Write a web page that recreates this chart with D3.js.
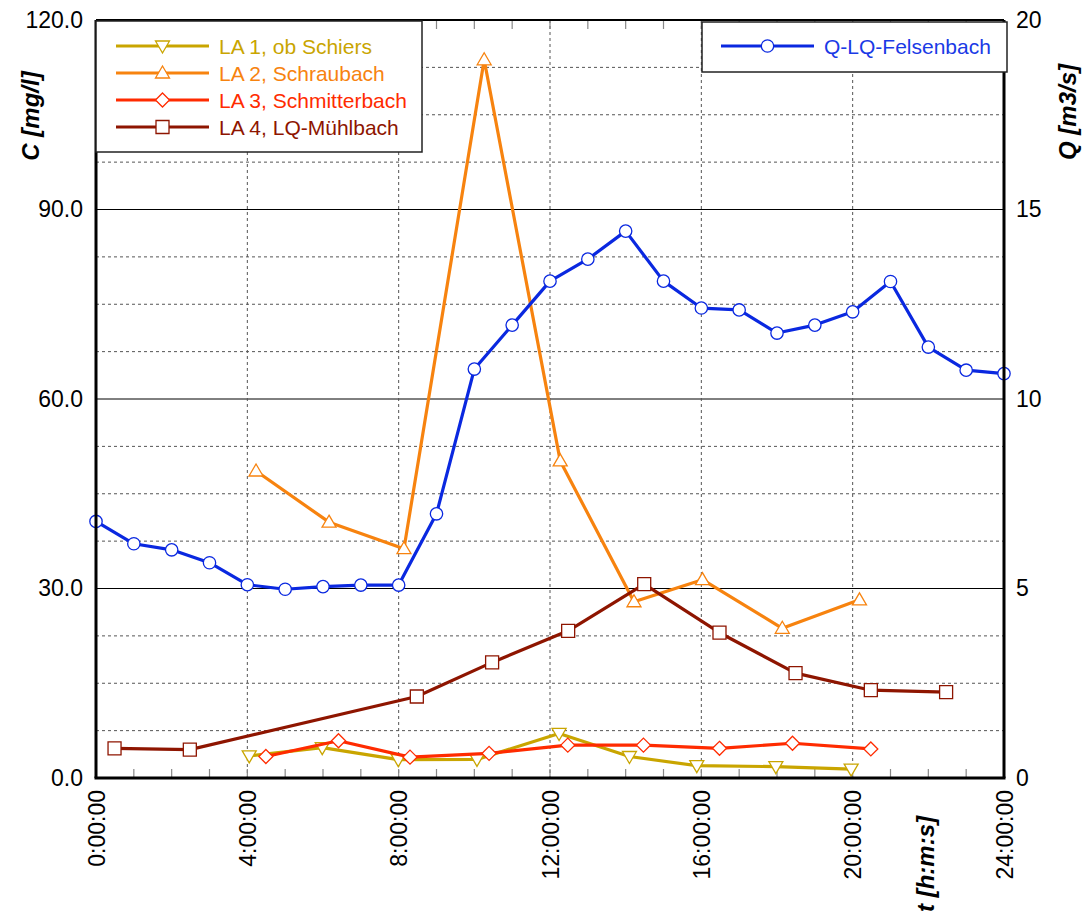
<!DOCTYPE html>
<html>
<head>
<meta charset="utf-8">
<script src="https://cdn.jsdelivr.net/npm/d3@7"></script>
<style>
  body { margin: 0; background: #fff; }
  svg { display: block; font-family: "Liberation Sans", Arial, Helvetica, sans-serif; }
</style>
</head>
<body>
<svg id="chart" width="1088" height="920"></svg>
<script>
// ---- data: sampling times in decimal hours, concentrations C [mg/l], discharge Q [m3/s]
const qTimes  = [0, 1, 2, 3, 4, 5, 6, 7, 8, 9, 10, 11, 12, 13, 14, 15, 16, 17, 18, 19, 20, 21, 22, 23, 24];
const qValues = [6.77, 6.18, 6.02, 5.68, 5.10, 4.98, 5.05, 5.09, 5.09, 6.97, 10.79, 11.95, 13.11, 13.69, 14.43,
                 13.11, 12.40, 12.35, 11.74, 11.95, 12.30, 13.10, 11.37, 10.76, 10.67];

const la1Times  = [4.05, 5.98, 7.99, 10.07, 12.24, 14.10, 15.88, 17.97, 19.96];
const la1Values = [3.5, 4.8, 2.9, 2.95, 7.05, 3.4, 1.95, 1.8, 1.4];

const la2Times  = [4.23, 6.16, 8.14, 10.26, 12.27, 14.22, 16.03, 18.14, 20.18];
const la2Values = [48.6, 40.5, 36.3, 113.7, 50.2, 27.9, 31.4, 23.7, 28.2];

const la3Times  = [4.49, 6.41, 8.30, 10.39, 12.47, 14.47, 16.48, 18.41, 20.48];
const la3Values = [3.4, 5.9, 3.3, 3.9, 5.2, 5.2, 4.7, 5.5, 4.6];

const la4Times  = [0.49, 2.48, 8.48, 10.47, 12.48, 14.49, 16.48, 18.49, 20.48, 22.47];
const la4Values = [4.7, 4.5, 12.9, 18.3, 23.3, 30.7, 23.0, 16.6, 13.9, 13.6];

const seriesNames = ["LA 1, ob Schiers", "LA 2, Schraubach", "LA 3, Schmitterbach", "LA 4, LQ-Mühlbach"];
const qName = "Q-LQ-Felsenbach";

const cTicks = [0, 30, 60, 90, 120];
const qTicks = [0, 5, 10, 15, 20];
const timeTicks = [0, 4, 8, 12, 16, 20, 24];

// ---- layout
const svg = d3.select("#chart");
const plotL = 96, plotR = 1004, plotT = 20, plotB = 778;

const x  = d3.scaleLinear().domain([0, 24]).range([plotL, plotR]);
const yC = d3.scaleLinear().domain([0, 120]).range([plotB, plotT]);
const yQ = d3.scaleLinear().domain([0, 20]).range([plotB, plotT]);

// ---- grid
const grid = svg.append("g");
const minorC = d3.range(7.5, 120, 7.5);
grid.selectAll("line.h").data(minorC).join("line")
  .attr("x1", plotL).attr("x2", plotR)
  .attr("y1", d => yC(d)).attr("y2", d => yC(d))
  .attr("stroke", d => (d % 30 === 0) ? "#000" : "#555")
  .attr("stroke-width", 1)
  .attr("stroke-dasharray", d => (d % 30 === 0) ? null : "3,3");
grid.selectAll("line.v").data(timeTicks.slice(1, -1)).join("line")
  .attr("x1", d => x(d)).attr("x2", d => x(d))
  .attr("y1", plotT).attr("y2", plotB)
  .attr("stroke", "#555").attr("stroke-width", 1).attr("stroke-dasharray", "3,3");

// hourly minor ticks, inside the frame at bottom and top
const hours = d3.range(1, 24);
grid.selectAll("line.tb").data(hours).join("line")
  .attr("x1", d => x(d)).attr("x2", d => x(d))
  .attr("y1", plotB).attr("y2", plotB - 9)
  .attr("stroke", "#888").attr("stroke-width", 1.2);
grid.selectAll("line.tt").data(hours).join("line")
  .attr("x1", d => x(d)).attr("x2", d => x(d))
  .attr("y1", plotT).attr("y2", plotT + 9)
  .attr("stroke", "#888").attr("stroke-width", 1.2);

// ---- series
const zip = (t, v) => t.map((d, i) => [d, v[i]]);

const series = [
  { name: seriesNames[0], pts: zip(la1Times, la1Values), color: "#c9a500", text: "#c9a500", sym: "tdown", y: yC },
  { name: seriesNames[1], pts: zip(la2Times, la2Values), color: "#f7830f", text: "#f7830f", sym: "tup",   y: yC },
  { name: seriesNames[2], pts: zip(la3Times, la3Values), color: "#ff2b00", text: "#ff2b00", sym: "diamond", y: yC },
  { name: seriesNames[3], pts: zip(la4Times, la4Values), color: "#8e1500", text: "#8e1500", sym: "square", y: yC },
];
const qSeries = { name: qName, pts: zip(qTimes, qValues), color: "#0a28e0", text: "#1a3ae6", sym: "circle", y: yQ };

function marker(g, sym, color, cx, cy) {
  const s = g.append("path")
    .attr("fill", "#fff").attr("stroke", color).attr("stroke-width", 1.3)
    .attr("transform", `translate(${cx},${cy})`);
  if (sym === "circle") s.attr("d", d3.symbol(d3.symbolCircle, 120)());
  else if (sym === "square") s.attr("d", "M-6.5,-6.5H6.5V6.5H-6.5Z");
  else if (sym === "diamond") s.attr("d", "M0,-7L7,0L0,7L-7,0Z");
  else if (sym === "tup") s.attr("d", "M0,-7L7,5L-7,5Z");
  else if (sym === "tdown") s.attr("d", "M0,7L7,-5L-7,-5Z");
}

function drawSeries(s) {
  const g = svg.append("g");
  const line = d3.line().x(d => x(d[0])).y(d => s.y(d[1]));
  g.append("path").datum(s.pts)
    .attr("d", line).attr("fill", "none")
    .attr("stroke", s.color).attr("stroke-width", 3.2)
    .attr("stroke-linejoin", "round");
  s.pts.forEach(d => marker(g, s.sym, s.color, x(d[0]), s.y(d[1])));
}

series.forEach(drawSeries);
drawSeries(qSeries);

// ---- frame
const frame = svg.append("g").attr("fill", "none").attr("stroke", "#000");
frame.append("line").attr("x1", plotL).attr("x2", plotR).attr("y1", plotT).attr("y2", plotT).attr("stroke-width", 2);
frame.append("line").attr("x1", plotL - 1.5).attr("x2", plotR + 1.5).attr("y1", plotB).attr("y2", plotB).attr("stroke-width", 3);
frame.append("line").attr("x1", plotL).attr("x2", plotL).attr("y1", plotT).attr("y2", plotB).attr("stroke-width", 3);
frame.append("line").attr("x1", plotR).attr("x2", plotR).attr("y1", plotT).attr("y2", plotB).attr("stroke-width", 3);

// ---- axes
const tickFont = 23;
const axL = svg.append("g").attr("transform", `translate(${plotL},0)`)
  .call(d3.axisLeft(yC).tickValues(cTicks).tickFormat(d3.format(".1f")).tickSize(0).tickPadding(13));
const axR = svg.append("g").attr("transform", `translate(${plotR},0)`)
  .call(d3.axisRight(yQ).tickValues(qTicks).tickFormat(d3.format("d")).tickSize(0).tickPadding(12));
const axB = svg.append("g").attr("transform", `translate(0,${plotB})`)
  .call(d3.axisBottom(x).tickValues(timeTicks).tickFormat(h => h + ":00:00").tickSize(0));
[axL, axR, axB].forEach(a => {
  a.select(".domain").remove();
  a.selectAll("text").attr("font-size", tickFont).attr("fill", "#000")
    .attr("font-family", "'Liberation Sans', Arial, Helvetica, sans-serif");
});
axB.selectAll("text")
  .attr("transform", "rotate(-90)")
  .attr("x", -12).attr("y", 0).attr("dy", "0.36em")
  .style("text-anchor", "end");

// axis titles
function axisTitle(txt, cx, cy) {
  svg.append("text")
    .attr("transform", `translate(${cx},${cy}) rotate(-90)`)
    .attr("text-anchor", "middle").attr("dy", "0.36em")
    .attr("font-size", 24).attr("font-weight", "bold").attr("font-style", "italic")
    .attr("fill", "#000").text(txt);
}
axisTitle("C [mg/l]", 30, 116);
axisTitle("Q [m3/s]", 1067, 112);
axisTitle("t [h:m:s]", 925, 864);

// ---- legends
function legend(items, bx, by, bw, bh, rowY0, rowStep, lx1, lx2, tx) {
  const g = svg.append("g");
  g.append("rect").attr("x", bx).attr("y", by).attr("width", bw).attr("height", bh)
    .attr("fill", "#fff").attr("stroke", "#222").attr("stroke-width", 1.5);
  items.forEach((s, i) => {
    const yy = rowY0 + i * rowStep;
    g.append("line").attr("x1", lx1).attr("x2", lx2).attr("y1", yy).attr("y2", yy)
      .attr("stroke", s.color).attr("stroke-width", 3.2);
    marker(g, s.sym, s.color, (lx1 + lx2) / 2, yy);
    g.append("text").attr("x", tx).attr("y", yy).attr("dy", "0.36em")
      .attr("font-size", 21).attr("fill", s.text).text(s.name);
  });
}
legend(series, plotL, 21, 326, 131, 46, 27, 116, 209, 219);
legend([qSeries], 702, 22, 305, 50, 46, 0, 721, 814, 824);
</script>
</body>
</html>
